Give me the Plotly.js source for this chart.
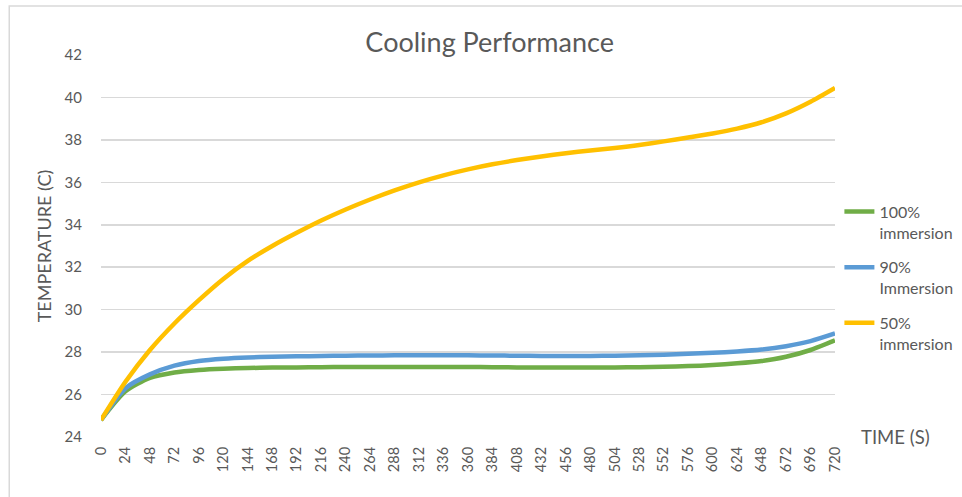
<!DOCTYPE html>
<html>
<head>
<meta charset="utf-8">
<script src="https://cdn.plot.ly/plotly-3.0.1.min.js"></script>
<style>html,body{margin:0;padding:0;background:#fff;}#chart{width:962px;height:497px;}</style>
</head>
<body>
<div id="chart"></div>
<script>
const timeS = [0,24,48,72,96,120,144,168,192,216,240,264,288,312,336,360,384,408,432,456,480,504,528,552,576,600,624,648,672,696,720];
const immersion100 = [24.8,26.15,26.78,27.04,27.16,27.22,27.25,27.27,27.28,27.29,27.3,27.3,27.3,27.3,27.3,27.3,27.29,27.28,27.27,27.27,27.27,27.28,27.29,27.31,27.34,27.39,27.47,27.58,27.78,28.1,28.55];
const immersion90 = [24.8,26.3,26.95,27.36,27.58,27.69,27.75,27.78,27.8,27.82,27.83,27.84,27.85,27.85,27.85,27.85,27.84,27.83,27.82,27.82,27.82,27.83,27.85,27.88,27.92,27.97,28.03,28.12,28.28,28.52,28.88];
const immersion50 = [24.8,26.6,28.1,29.35,30.45,31.45,32.3,33.0,33.62,34.2,34.72,35.19,35.62,36.0,36.33,36.61,36.85,37.05,37.22,37.37,37.5,37.62,37.76,37.93,38.11,38.3,38.53,38.83,39.25,39.8,40.45];
const seriesNames = ["100%<br>immersion","90%<br>Immersion","50%<br>immersion"];
const yTicks = [24,26,28,30,32,34,36,38,40,42];

const colors = ["#70AD47","#5B9BD5","#FFC000"];
const ys = [immersion100, immersion90, immersion50];
const traces = ys.map((y,i)=>({
  x: timeS, y: y, type:'scatter', mode:'lines', name: seriesNames[i],
  legendgroup: 'g'+i,
  line:{color:colors[i], width:4.5, shape:'spline', smoothing:0.7}
}));

const font = "Lato, 'Open Sans', sans-serif";
const layout = {
  width:962, height:497,
  margin:{l:101, r:127, t:55, b:60, autoexpand:false},
  paper_bgcolor:'#fff', plot_bgcolor:'#fff',
  font:{family:font, color:'#595959', size:14},
  title:{text:'Cooling Performance', x:0.509, xanchor:'center', y:0.915, yanchor:'middle', font:{family:font, size:27, color:'#595959'}},
  xaxis:{range:[0,720], tickmode:'array', tickvals:timeS, ticktext:timeS.map(String), tickangle:-90,
    showgrid:false, zeroline:false, showline:false, ticks:'', ticklabelstandoff:6,
    tickfont:{size:14.5, color:'#595959'}, fixedrange:true},
  yaxis:{range:[24,42], tickvals:yTicks, showgrid:true, gridcolor:'#D9D9D9', gridwidth:1.5, zeroline:false, showline:false,
    ticks:'', ticklabelstandoff:18, tickfont:{size:15, color:'#595959'},
    title:{text:'TEMPERATURE (C)', font:{size:18, color:'#595959'}, standoff:8}},
  legend:{x:1.006, xanchor:'left', y:0.417, yanchor:'middle', valign:'top', tracegroupgap:11,
    font:{size:16, color:'#595959'}, bgcolor:'rgba(0,0,0,0)', itemwidth:30},
  showlegend:true,
  annotations:[{text:'TIME (S)', xref:'paper', yref:'paper', x:1.033, y:0.0, xanchor:'left', yanchor:'middle', showarrow:false, font:{size:18.5, color:'#595959'}}],
  shapes:[{type:'rect', xref:'paper', yref:'paper', x0:-0.125, x1:1.3, y0:-0.3, y1:1.128, line:{color:'#D9D9D9', width:1.5}, layer:'below'}]
};
Plotly.newPlot('chart', traces, layout, {displayModeBar:false, staticPlot:true});
</script>
</body>
</html>
